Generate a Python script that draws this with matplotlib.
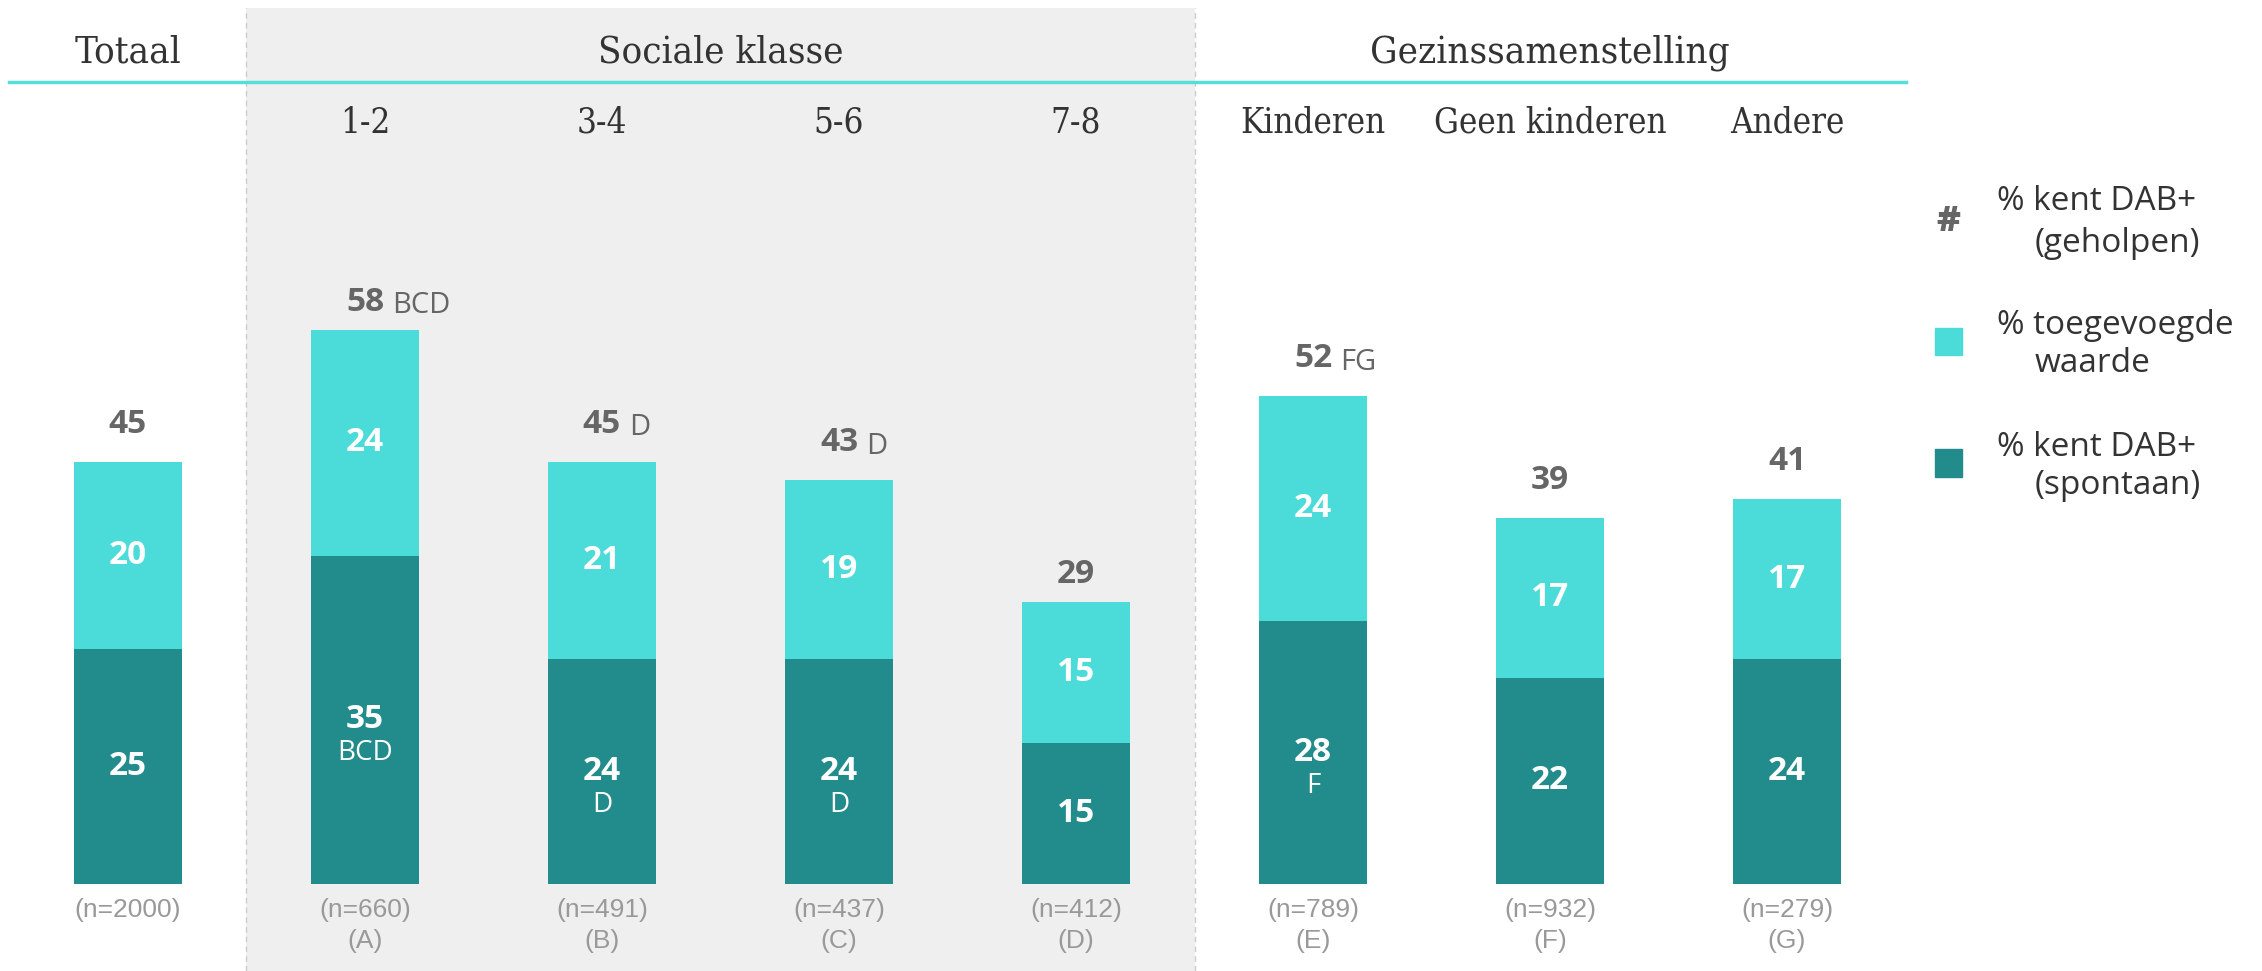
import matplotlib.pyplot as plt
from matplotlib.patches import Rectangle

# data
groups = ['Totaal', 'Sociale klasse', 'Gezinssamenstelling']
group_centers = [0, 2.5, 6]
categories = ['', '1-2', '3-4', '5-6', '7-8', 'Kinderen', 'Geen kinderen', 'Andere']
spontaan = [25, 35, 24, 24, 15, 28, 22, 24]
toegevoegd = [20, 24, 21, 19, 15, 24, 17, 17]
geholpen = [45, 58, 45, 43, 29, 52, 39, 41]
sig_spontaan = ['', 'BCD', 'D', 'D', '', 'F', '', '']
sig_geholpen = ['', 'BCD', 'D', 'D', '', 'FG', '', '']
sample_n = [2000, 660, 491, 437, 412, 789, 932, 279]
letters = ['', 'A', 'B', 'C', 'D', 'E', 'F', 'G']

dark = '#228b8c'
light = '#4bdbd8'
grey_txt = '#666666'
head_font = dict(family='DejaVu Serif', fontstretch='condensed', color='#333333')
num_font = 'Open Sans'
n_font = ['Liberation Sans Narrow', 'Liberation Sans']

fig = plt.figure(figsize=(22.62, 9.71), dpi=100)
ax = fig.add_axes([0, 0, 1, 1])
ax.set_xlim(-0.54, 9.004)
ax.set_ylim(-9.27, 94.2)
ax.axis('off')

x = list(range(len(categories)))

# shaded block for sociale klasse
ax.axvspan(0.5, 4.5, ymin=0, ymax=0.992, color='#efefef', zorder=0, lw=0)
for xv in [0.5, 4.5]:
    ax.axvline(xv, ymin=0, ymax=0.992, color='#cccccc', lw=1, ls=(0, (4, 3)), zorder=1)

# header
ax.plot([-0.5, 7.5], [85.5, 85.5], color='#55deda', lw=2.5, zorder=2)
for g, gx in zip(groups, group_centers):
    ax.text(gx, 88.6, g, ha='center', va='center', fontsize=27.5, **head_font)
for i, c in enumerate(categories):
    ax.text(i, 81.1, c, ha='center', va='center', fontsize=25, **head_font)

# bars
w = 0.456
ax.bar(x, spontaan, width=w, color=dark, zorder=3)
ax.bar(x, toegevoegd, width=w, bottom=spontaan, color=light, zorder=3)

for i in x:
    # dark segment
    yc = spontaan[i] / 2
    ax.text(i, yc, str(spontaan[i]), ha='center', va='center', color='white',
            fontsize=24, fontweight='bold', family=num_font, zorder=4)
    if sig_spontaan[i]:
        ax.annotate(sig_spontaan[i], (i, yc), xytext=(0, -24), textcoords='offset points',
                    ha='center', va='center', color='white', fontsize=20, family=num_font, zorder=4)
    # light segment
    ax.text(i, spontaan[i] + toegevoegd[i] / 2, str(toegevoegd[i]), ha='center', va='center',
            color='white', fontsize=24, fontweight='bold', family=num_font, zorder=4)
    # total on top
    ax.annotate(str(geholpen[i]), (i, geholpen[i]), xytext=(0, 21), textcoords='offset points',
                ha='center', va='baseline', color=grey_txt, fontsize=24, fontweight='bold',
                family=num_font)
    if sig_geholpen[i]:
        ax.annotate(sig_geholpen[i], (i, geholpen[i]), xytext=(19.5, 19), textcoords='offset points',
                    ha='left', va='baseline', color=grey_txt, fontsize=21, family=num_font)
    # sample sizes
    ax.annotate('(n=%d)' % sample_n[i], (i, 0), xytext=(0, -19), textcoords='offset points',
                ha='center', va='center', color='#999999', fontsize=19, family=n_font)
    if letters[i]:
        ax.annotate('(%s)' % letters[i], (i, 0), xytext=(0, -41), textcoords='offset points',
                    ha='center', va='center', color='#999999', fontsize=19, family=n_font)

# legend (figure pixels -> fraction)
W, H = 2262, 971
fig.text(1948 / W, 1 - 222 / H, '#', ha='center', va='center', color=grey_txt,
         fontsize=26, fontweight='heavy', family=num_font)
for cy, col in [(342, light), (463, dark)]:
    fig.patches.append(Rectangle(((1948 - 13.5) / W, 1 - (cy + 13.5) / H), 27 / W, 27 / H,
                                 transform=fig.transFigure, color=col, figure=fig))
leg_lines = [('% kent DAB+', '(geholpen)', 202, 243),
             ('% toegevoegde', 'waarde', 325, 363),
             ('% kent DAB+', '(spontaan)', 447, 485)]
for l1, l2, y1, y2 in leg_lines:
    fig.text(1997 / W, 1 - y1 / H, l1, ha='left', va='center', color='#333333',
             fontsize=24, family=num_font)
    fig.text(2035 / W, 1 - y2 / H, l2, ha='left', va='center', color='#333333',
             fontsize=24, family=num_font)

fig.savefig('out.png', dpi=100)
